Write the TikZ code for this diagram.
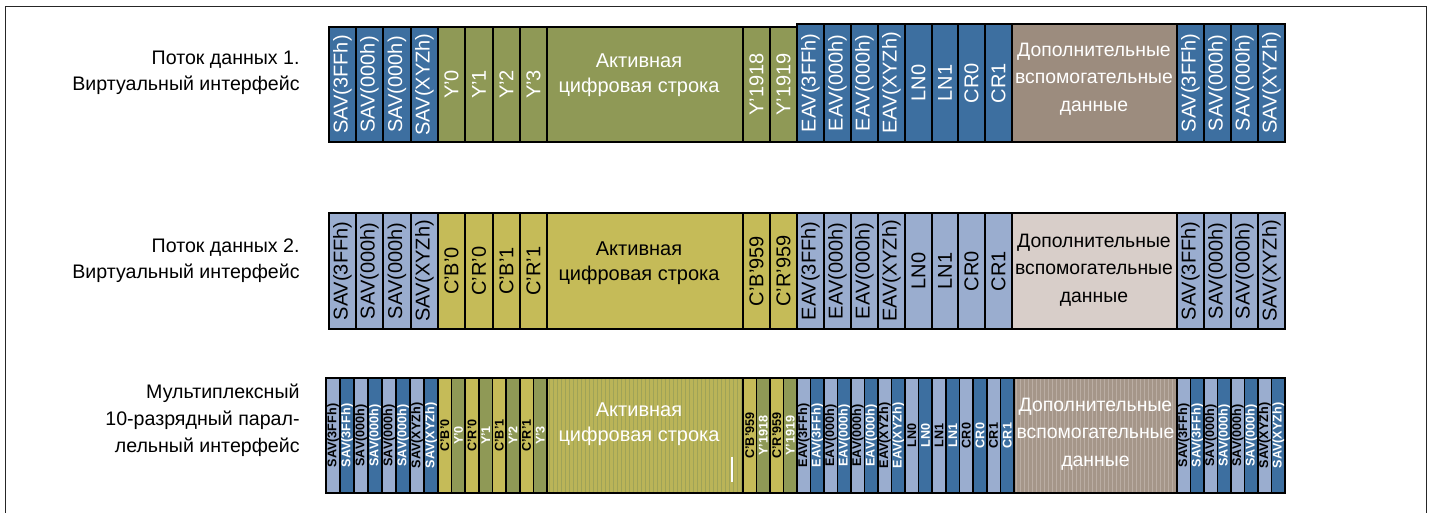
\documentclass[tikz,border=0pt]{standalone}
\usepackage{fontspec}
\setmainfont{Liberation Sans}
\definecolor{bD}{RGB}{61,111,160}
\definecolor{gD}{RGB}{143,153,86}
\definecolor{nD}{RGB}{156,140,126}
\definecolor{bL}{RGB}{154,173,207}
\definecolor{yL}{RGB}{197,187,88}
\definecolor{nL}{RGB}{216,206,201}
\tikzset{
  cellbox/.style={draw=black, line width=1pt, inner sep=0pt, rotate=90, font=\fontsize{10}{12}\selectfont},
  smallbox/.style={draw=black, line width=0.8pt, inner sep=0pt, rotate=90, font=\fontsize{6.3}{7}\selectfont\bfseries},
  hbox/.style={draw=black, line width=1pt, inner sep=0pt},
  htext/.style={inner sep=0pt, align=center, font=\fontsize{10}{12.5}\selectfont},
  anctext/.style={inner sep=0pt, align=center, font=\fontsize{9.7}{13.75}\selectfont},
  lefttext/.style={inner sep=0pt, align=right, anchor=east, font=\fontsize{9.8}{13}\selectfont},
}
% name, x0, x1, y0, y1, fill, text colour, style, label
\newcommand{\mkv}[9]{%
  \pgfmathsetmacro{\vcX}{(#2+#3)/2}%
  \pgfmathsetmacro{\vcY}{(#4+#5)/2}%
  \pgfmathsetmacro{\vcW}{(#3-#2)*0.5}%
  \pgfmathsetmacro{\vcH}{(#5-#4)*0.5}%
  \node[#8, fill=#6, text=#7, minimum width=\vcH pt, minimum height=\vcW pt] (#1) at (\vcX,\vcY) {#9};}
% name, x0, x1, y0, y1, fill
\newcommand{\mkh}[6]{%
  \pgfmathsetmacro{\vcX}{(#2+#3)/2}%
  \pgfmathsetmacro{\vcY}{(#4+#5)/2}%
  \pgfmathsetmacro{\vcW}{(#3-#2)*0.5}%
  \pgfmathsetmacro{\vcH}{(#5-#4)*0.5}%
  \node[hbox, fill=#6, minimum width=\vcW pt, minimum height=\vcH pt] (#1) at (\vcX,\vcY) {};}
\begin{document}
\begin{tikzpicture}[x=0.5pt,y=-0.5pt]
\useasboundingbox (0,0) rectangle (1432,513);
\fill[white] (0,0) rectangle (1432,513);
\draw[line width=0.8pt, black!85] (5.5,513) -- (5.5,6.5) -- (1426.5,6.5) -- (1426.5,513);

% ---------- left labels ----------
\node[lefttext] (lab1) at (300,73) {Поток данных 1.\\Виртуальный интерфейс};
\node[lefttext] (lab2) at (300,260.5) {Поток данных 2.\\Виртуальный интерфейс};
\node[lefttext, font=\fontsize{9.8}{13.5}\selectfont] (lab3) at (300,420) {Мультиплексный\\10-разрядный парал-\\лельный интерфейс};

% ---------- row 1 ----------
\foreach \xa/\xb/\lab [count=\i] in {329/356/SAV(3FFh),356/383/SAV(000h),383/411/SAV(000h),411/438/SAV(XYZh)}
  {\mkv{r1s\i}{\xa}{\xb}{27}{142}{bD}{white}{cellbox}{\lab}}
\foreach \xa/\xb/\lab [count=\i] in {438/465/Y’0,465/493/Y’1,493/520/Y’2,520/547/Y’3,743/770/Y’1918,770/797/Y’1919}
  {\mkv{r1y\i}{\xa}{\xb}{27}{142}{gD}{white}{cellbox}{\lab}}
\mkh{r1act}{547}{743}{27}{142}{gD}
\node[htext, text=white] (r1actT) at (639,75.5) {Активная\\цифровая строка};
\foreach \xa/\xb/\lab [count=\i] in {797/824/EAV(3FFh),824/851/EAV(000h),851/878/EAV(000h),878/905/EAV(XYZh),905/932/LN0,932/958/LN1,958/985/CR0,985/1012/CR1}
  {\mkv{r1e\i}{\xa}{\xb}{24}{142}{bD}{white}{cellbox}{\lab}}
\mkh{r1anc}{1012}{1177}{24}{142}{nD}
\node[anctext, text=white] (r1ancT) at (1094,79) {Дополнительные\\вспомогательные\\данные};
\foreach \xa/\xb/\lab [count=\i] in {1177/1204/SAV(3FFh),1204/1231/SAV(000h),1231/1258/SAV(000h),1258/1285/SAV(XYZh)}
  {\mkv{r1t\i}{\xa}{\xb}{24}{142}{bD}{white}{cellbox}{\lab}}

% ---------- row 2 ----------
\foreach \xa/\xb/\lab [count=\i] in {329/356/SAV(3FFh),356/383/SAV(000h),383/411/SAV(000h),411/438/SAV(XYZh)}
  {\mkv{r2s\i}{\xa}{\xb}{213}{329}{bL}{black}{cellbox}{\lab}}
\foreach \xa/\xb/\lab [count=\i] in {438/465/C’B’0,465/493/C’R’0,493/520/C’B’1,520/547/C’R’1,743/770/C’B’959,770/797/C’R’959}
  {\mkv{r2y\i}{\xa}{\xb}{213}{329}{yL}{black}{cellbox}{\lab}}
\mkh{r2act}{547}{743}{213}{329}{yL}
\node[htext, text=black] (r2actT) at (639,263.4) {Активная\\цифровая строка};
\foreach \xa/\xb/\lab [count=\i] in {797/824/EAV(3FFh),824/851/EAV(000h),851/878/EAV(000h),878/905/EAV(XYZh),905/932/LN0,932/958/LN1,958/985/CR0,985/1012/CR1}
  {\mkv{r2e\i}{\xa}{\xb}{213}{329}{bL}{black}{cellbox}{\lab}}
\mkh{r2anc}{1012}{1177}{213}{329}{nL}
\node[anctext, text=black] (r2ancT) at (1094,270) {Дополнительные\\вспомогательные\\данные};
\foreach \xa/\xb/\lab [count=\i] in {1177/1204/SAV(3FFh),1204/1231/SAV(000h),1231/1258/SAV(000h),1258/1285/SAV(XYZh)}
  {\mkv{r2t\i}{\xa}{\xb}{213}{329}{bL}{black}{cellbox}{\lab}}

% ---------- row 3 ----------
\foreach \lab [count=\i from 0] in {SAV(3FFh),SAV(3FFh),SAV(000h),SAV(000h),SAV(000h),SAV(000h),SAV(XYZh),SAV(XYZh)}{%
  \pgfmathsetmacro{\xa}{326+14*\i}\pgfmathsetmacro{\xb}{\xa+14}%
  \ifodd\i\relax \mkv{r3s\i}{\xa}{\xb}{378}{493}{bD}{white}{smallbox}{\lab}%
  \else \mkv{r3s\i}{\xa}{\xb}{378}{493}{bL}{black}{smallbox}{\lab}\fi}
\foreach \lab [count=\i from 0] in {C’B’0,Y’0,C’R’0,Y’1,C’B’1,Y’2,C’R’1,Y’3}{%
  \pgfmathsetmacro{\xa}{438+13.625*\i}\pgfmathsetmacro{\xb}{\xa+13.625}%
  \ifodd\i\relax \mkv{r3y\i}{\xa}{\xb}{378}{493}{gD}{white}{smallbox}{\lab}%
  \else \mkv{r3y\i}{\xa}{\xb}{378}{493}{yL}{black}{smallbox}{\lab}\fi}
% striped active line
\fill[yL!80!gD] (547,378) rectangle (743,493);
\foreach \s in {549,553,...,741} \draw[gD!70!yL, line width=0.5pt] (\s,378) -- (\s,493);
\mkh{r3act}{547}{743}{378}{493}{none}
\draw[white, line width=0.6pt] (732,457) -- (732,482);
\node[htext, text=white] (r3actT) at (639,424.5) {Активная\\цифровая строка};
\foreach \lab [count=\i from 0] in {C’B’959,Y’1918,C’R’959,Y’1919}{%
  \pgfmathsetmacro{\xa}{743+13.5*\i}\pgfmathsetmacro{\xb}{\xa+13.5}%
  \ifodd\i\relax \mkv{r3z\i}{\xa}{\xb}{378}{493}{gD}{white}{smallbox}{\lab}%
  \else \mkv{r3z\i}{\xa}{\xb}{378}{493}{yL}{black}{smallbox}{\lab}\fi}
\foreach \lab [count=\i from 0] in {EAV(3FFh),EAV(3FFh),EAV(000h),EAV(000h),EAV(000h),EAV(000h),EAV(XYZh),EAV(XYZh)}{%
  \pgfmathsetmacro{\xa}{797+13.5*\i}\pgfmathsetmacro{\xb}{\xa+13.5}%
  \ifodd\i\relax \mkv{r3e\i}{\xa}{\xb}{378}{493}{bD}{white}{smallbox}{\lab}%
  \else \mkv{r3e\i}{\xa}{\xb}{378}{493}{bL}{black}{smallbox}{\lab}\fi}
\foreach \lab [count=\i from 0] in {LN0,LN0,LN1,LN1,CR0,CR0,CR1,CR1}{%
  \pgfmathsetmacro{\xa}{905+13.625*\i}\pgfmathsetmacro{\xb}{\xa+13.625}%
  \ifodd\i\relax \mkv{r3l\i}{\xa}{\xb}{378}{493}{bD}{white}{smallbox}{\lab}%
  \else \mkv{r3l\i}{\xa}{\xb}{378}{493}{bL}{black}{smallbox}{\lab}\fi}
% striped ancillary data
\fill[nD!85!nL] (1014,378) rectangle (1177,493);
\foreach \s in {1016,1020,...,1176} \draw[nL!50!nD, line width=0.5pt] (\s,378) -- (\s,493);
\mkh{r3anc}{1014}{1177}{378}{493}{none}
\node[anctext, text=white] (r3ancT) at (1095.5,434) {Дополнительные\\вспомогательные\\данные};
\foreach \lab [count=\i from 0] in {SAV(3FFh),SAV(3FFh),SAV(000h),SAV(000h),SAV(000h),SAV(000h),SAV(XYZh),SAV(XYZh)}{%
  \pgfmathsetmacro{\xa}{1177+13.5*\i}\pgfmathsetmacro{\xb}{\xa+13.5}%
  \ifodd\i\relax \mkv{r3t\i}{\xa}{\xb}{378}{493}{bD}{white}{smallbox}{\lab}%
  \else \mkv{r3t\i}{\xa}{\xb}{378}{493}{bL}{black}{smallbox}{\lab}\fi}
\end{tikzpicture}
\end{document}
